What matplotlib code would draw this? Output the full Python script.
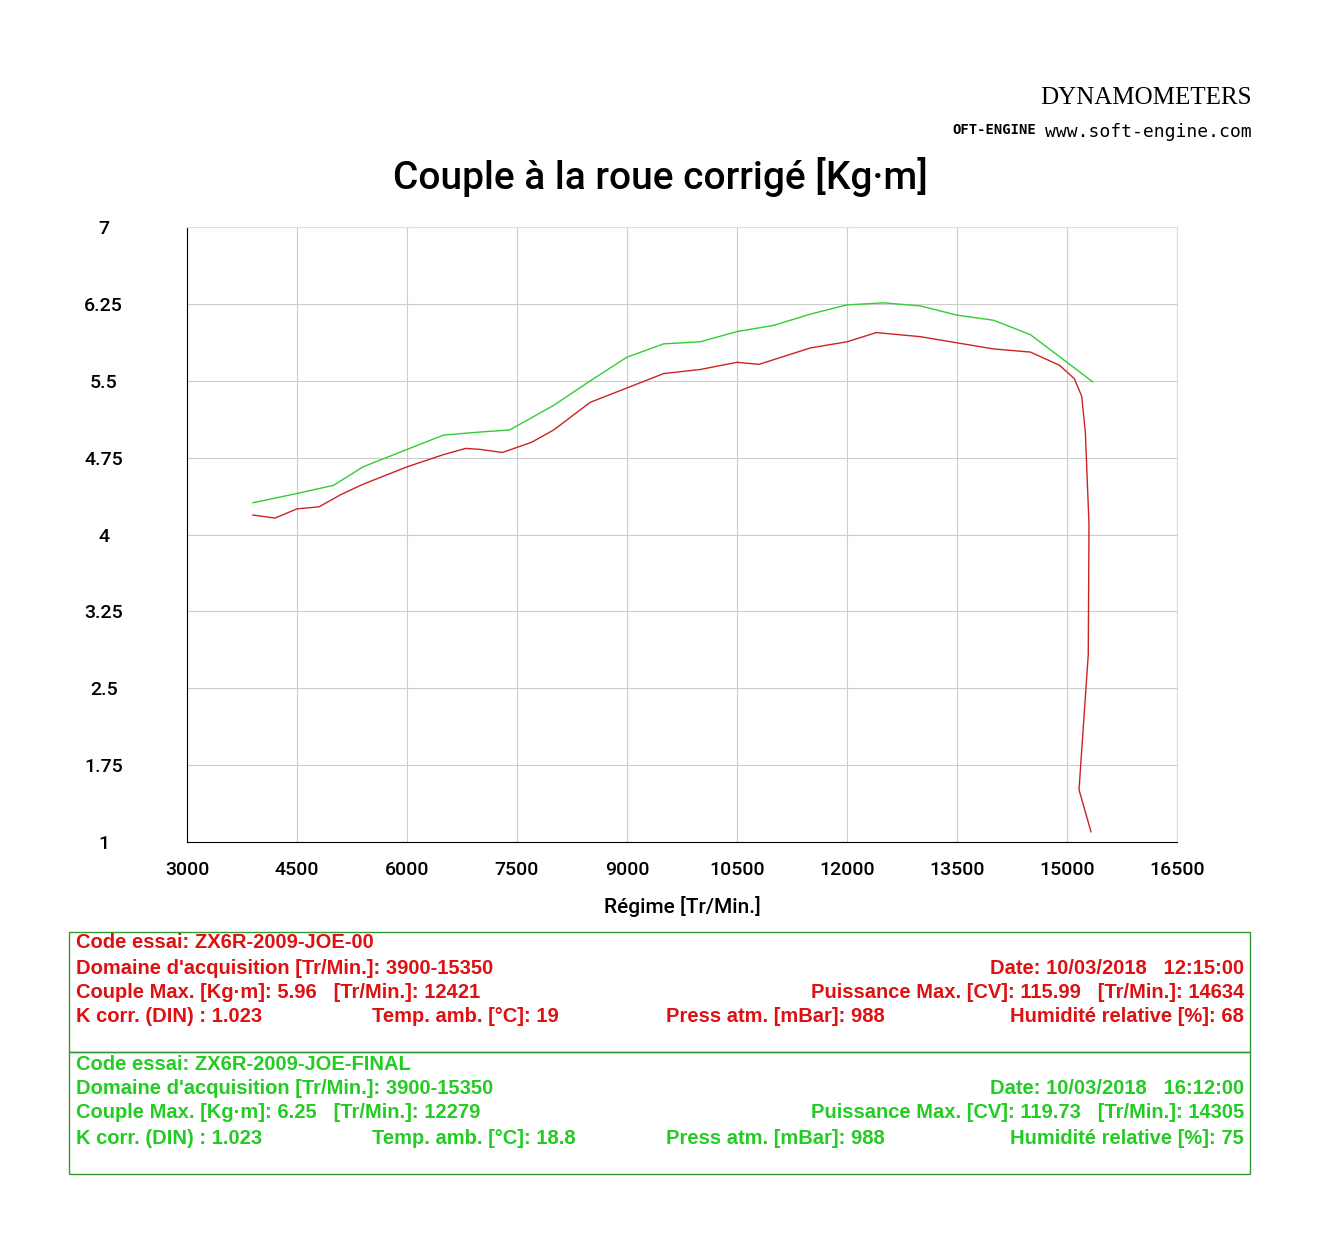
import matplotlib
matplotlib.use("Agg")
import matplotlib.pyplot as plt
from matplotlib.patches import Rectangle

red_rpm = [3900,4200,4500,4800,5100,5400,6000,6500,6800,7000,7300,7700,8000,8500,9000,9500,10000,10500,10800,11500,12000,12400,13000,13500,14000,14500,14900,15100,15200,15250,15300,15290,15164,15327]
red_tq  = [4.19,4.16,4.25,4.27,4.39,4.49,4.66,4.78,4.84,4.83,4.80,4.90,5.02,5.29,5.43,5.57,5.61,5.68,5.66,5.82,5.88,5.97,5.93,5.87,5.81,5.78,5.65,5.52,5.35,5.0,4.1,2.83,1.51,1.10]
green_rpm = [3900,4500,5000,5400,6000,6500,7000,7400,8000,8500,9000,9500,10000,10500,11000,11500,12000,12500,13000,13500,14000,14500,15000,15350]
green_tq  = [4.31,4.40,4.48,4.66,4.83,4.97,5.0,5.02,5.26,5.50,5.73,5.86,5.88,5.98,6.04,6.15,6.24,6.26,6.23,6.14,6.09,5.95,5.68,5.49]
xticks = [3000,4500,6000,7500,9000,10500,12000,13500,15000,16500]
yticks = [1,1.75,2.5,3.25,4,4.75,5.5,6.25,7]
ylabels = ["1","1.75","2.5","3.25","4","4.75","5.5","6.25","7"]

plt.rcParams['font.family'] = ['Liberation Sans', 'DejaVu Sans']
W, H = 1343, 1241
fig = plt.figure(figsize=(W/100, H/100), dpi=100)
ax = fig.add_axes([187/W, 1-842/H, 990/W, 615/H])
ax.set_xlim(3000, 16500); ax.set_ylim(1, 7)
ax.set_xticks(xticks); ax.set_yticks(yticks)
ax.set_yticklabels(ylabels)
ax.grid(True, color='#cccccc', lw=0.8)
for s in ['top', 'right']:
    ax.spines[s].set_color('#dddddd')
ax.spines['left'].set_color('black'); ax.spines['bottom'].set_color('black')
ax.tick_params(length=0, labelsize=14, pad=14)
for lab in ax.get_xticklabels() + ax.get_yticklabels():
    lab.set_fontweight('medium'); lab.set_family('Roboto')
for lab in ax.get_yticklabels():
    lab.set_horizontalalignment('center')
ax.tick_params(axis='y', pad=60)
ax.plot(green_rpm, green_tq, color='#33cc33', lw=1)
ax.plot(red_rpm, red_tq, color='#cc2222', lw=1)
ax.set_xlabel("Régime [Tr/Min.]", fontsize=15, labelpad=12, family='Roboto', fontweight='medium')
fig.text(660/W, 1-177/H, "Couple à la roue corrigé [Kg·m]", fontsize=28, ha='center', va='center',
         family='Roboto', fontweight='medium')
fig.text(1040/W, 1-98/H, "DYNAMOMETERS", fontsize=18, family='Liberation Serif', va='center')
fig.text(1045/W, 1-132/H, "www.soft-engine.com", fontsize=13, family='DejaVu Sans Mono', va='center')
fig.text(952/W, 1-130/H, "OFT-ENGINE", fontsize=10, va='center', family='DejaVu Sans Mono', fontweight='bold')

def box(y0, y1, color, lines):
    fig.patches.append(Rectangle((69/W, 1-y1/H), 1181/W, (y1-y0)/H, transform=fig.transFigure,
                                 fill=False, ec='#339933', lw=1))
    for (x, y, t, ha) in lines:
        fig.text(x/W, 1-y/H, t, color=color, fontsize=14.5, ha=ha, va='center',
                 family='Liberation Sans', fontweight='bold')

box(932, 1052, '#dd1111', [
    (76, 943, "Code essai: ZX6R-2009-JOE-00", 'left'),
    (76, 968, "Domaine d'acquisition [Tr/Min.]: 3900-15350", 'left'),
    (1244, 968, "Date: 10/03/2018   12:15:00", 'right'),
    (76, 992, "Couple Max. [Kg·m]: 5.96   [Tr/Min.]: 12421", 'left'),
    (1244, 992, "Puissance Max. [CV]: 115.99   [Tr/Min.]: 14634", 'right'),
    (76, 1017, "K corr. (DIN) : 1.023", 'left'),
    (372, 1017, "Temp. amb. [°C]: 19", 'left'),
    (666, 1017, "Press atm. [mBar]: 988", 'left'),
    (1244, 1017, "Humidité relative [%]: 68", 'right'),
])
box(1052, 1174, '#22cc22', [
    (76, 1065, "Code essai: ZX6R-2009-JOE-FINAL", 'left'),
    (76, 1089, "Domaine d'acquisition [Tr/Min.]: 3900-15350", 'left'),
    (1244, 1089, "Date: 10/03/2018   16:12:00", 'right'),
    (76, 1113, "Couple Max. [Kg·m]: 6.25   [Tr/Min.]: 12279", 'left'),
    (1244, 1113, "Puissance Max. [CV]: 119.73   [Tr/Min.]: 14305", 'right'),
    (76, 1138, "K corr. (DIN) : 1.023", 'left'),
    (372, 1138, "Temp. amb. [°C]: 18.8", 'left'),
    (666, 1138, "Press atm. [mBar]: 988", 'left'),
    (1244, 1138, "Humidité relative [%]: 75", 'right'),
])
fig.savefig("out.png", dpi=100, facecolor='white')
